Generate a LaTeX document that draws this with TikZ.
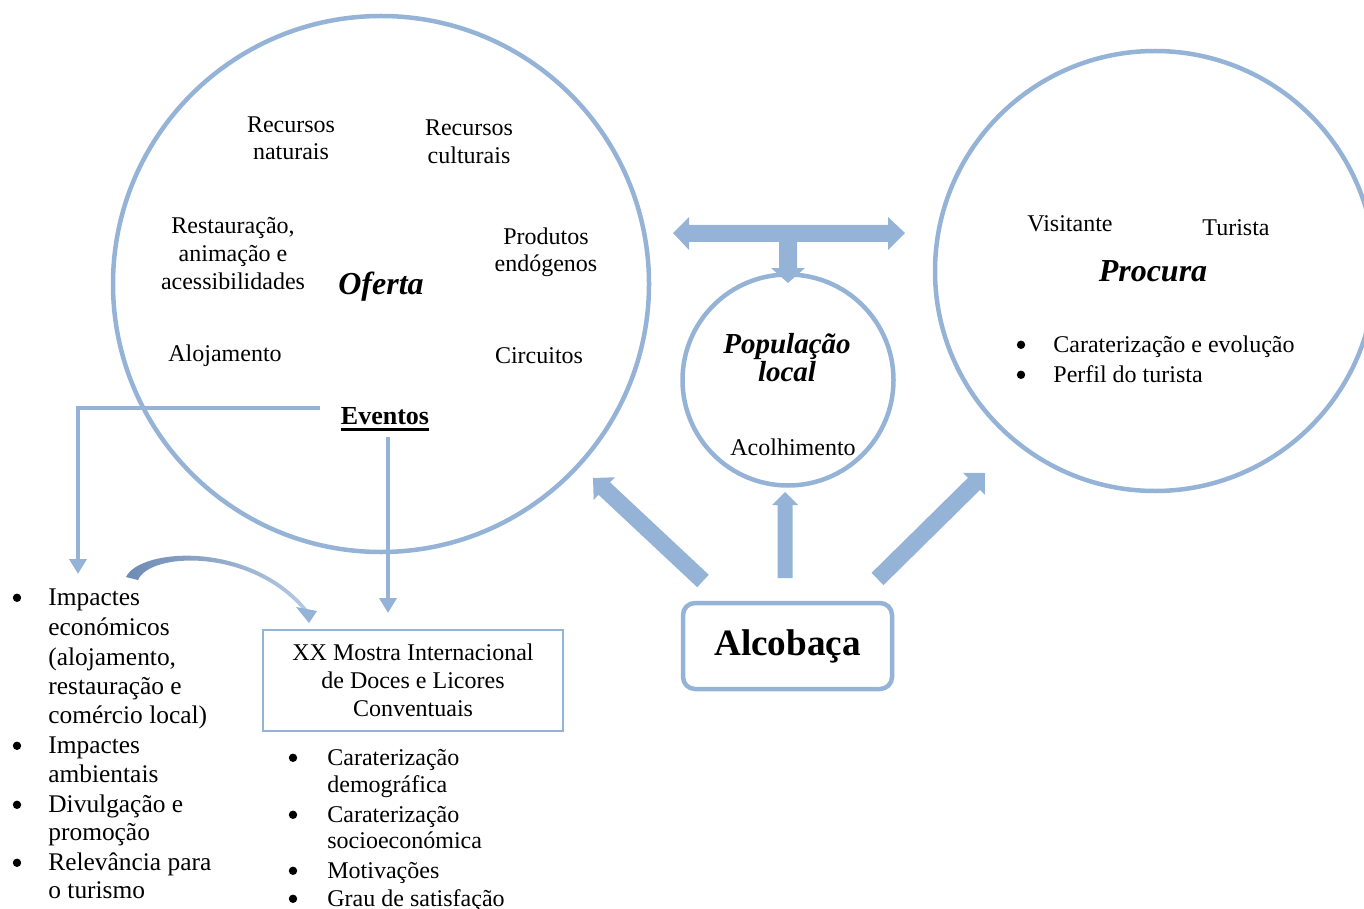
\documentclass[tikz,border=0pt]{standalone}
\usepackage{fontspec}
\setmainfont{Liberation Serif}
\usetikzlibrary{arrows.meta}
\definecolor{lblue}{HTML}{95B3D7}
\definecolor{dblue}{HTML}{6F8BB3}
\begin{document}
\begin{tikzpicture}[x=0.5pt,y=-0.5pt,
  ring/.style={circle, draw=lblue, line width=2.25pt, inner sep=0pt},
  txt/.style={inner sep=0pt, anchor=base, font=\fontsize{12}{14}\selectfont},
  itm/.style={inner sep=0pt, anchor=base west, font=\fontsize{12}{14}\selectfont},
  litm/.style={inner sep=0pt, anchor=base west, font=\fontsize{12.7}{15}\selectfont},
  bul/.style={circle, fill=black, inner sep=0pt, minimum size=4.2pt, yshift=3.6pt},
  biglab/.style={inner sep=0pt, anchor=base, font=\fontsize{16}{19}\selectfont\bfseries\itshape},
  blockarrow/.style={fill=lblue, draw=none},
  conn/.style={draw=lblue, line width=2.25pt, -{Triangle[width=8.5pt,length=7.5pt]}}
]
\useasboundingbox (0,0) rectangle (1364,909);

% ---------- the three circles ----------
\node[ring, minimum size=268pt] (oferta) at (381,284) {};
\node[ring, minimum size=220pt] (procura) at (1155,271) {};
\node[ring, minimum size=105.5pt] (pop) at (788,380) {};

% ---------- Oferta ----------
\node[txt] (rn1) at (291,133) {Recursos};
\node[txt] (rn2) at (291,160) {naturais};
\node[txt] (rc1) at (469,136) {Recursos};
\node[txt] (rc2) at (469,164) {culturais};
\node[txt] (ra1) at (233,234) {Restauração,};
\node[txt] (ra2) at (233,262) {animação e};
\node[txt] (ra3) at (233,289) {acessibilidades};
\node[biglab] (oft) at (381,294) {Oferta};
\node[txt] (pe1) at (546,244) {Produtos};
\node[txt] (pe2) at (546,271) {endógenos};
\node[txt] (aloj) at (225,361) {Alojamento};
\node[txt] (circ) at (539,363) {Circuitos};
\node[inner sep=0pt, anchor=base, font=\fontsize{13}{15}\selectfont\bfseries] (ev) at (385,424) {Eventos};
\draw[line width=1.4pt] (ev.west |- 0,429.5) -- (ev.east |- 0,429.5);

% ---------- Procura ----------
\node[txt] (vis) at (1070,232) {Visitante};
\node[txt] (tur) at (1236,235) {Turista};
\node[biglab] (prc) at (1153,281) {Procura};
\node[bul] (pb1) at (1021,352) {};
\node[itm] (p1) at (1053,352) {Caraterização e evolução};
\node[bul] (pb2) at (1021,382) {};
\node[itm] (p2) at (1053,382) {Perfil do turista};

% ---------- População local ----------
\node[inner sep=0pt, anchor=base, font=\fontsize{14.5}{17}\selectfont\bfseries\itshape] (pl1) at (787,353) {População};
\node[inner sep=0pt, anchor=base, font=\fontsize{14.5}{17}\selectfont\bfseries\itshape] (pl2) at (787,381) {local};
\node[txt] (acol) at (793,455) {Acolhimento};

% ---------- Alcobaça ----------
\node[draw=lblue, line width=2.25pt, rounded corners=6pt, minimum width=104.5pt,
      minimum height=43pt, inner sep=0pt, font=\fontsize{18.6}{22}\selectfont\bfseries]
      (alc) at (787.5,646) {Alcobaça};

% ---------- block arrows ----------
% double arrow between Oferta and Procura, with a stem down to the local population
\fill[blockarrow] (673,233) -- (689,217) -- (689,225) -- (888,225) -- (888,217) -- (905,233)
  -- (888,250) -- (888,242) -- (797,242) -- (797,268) -- (805,268) -- (788,283)
  -- (771,268) -- (779,268) -- (779,242) -- (689,242) -- (689,250) -- cycle;
% from Alcobaça towards Oferta
\fill[blockarrow] (708.8,574.8) -- (610.1,482.4) -- (614.9,477.3) -- (593,478)
  -- (593.7,499.9) -- (598.5,494.8) -- (697.2,587.2) -- cycle;
% from Alcobaça towards the local population
\fill[blockarrow] (777.5,578) -- (777.5,505) -- (772,505) -- (785,492) -- (798,505)
  -- (792.5,505) -- (792.5,578) -- cycle;
% from Alcobaça towards Procura
\fill[blockarrow] (871.5,572.9) -- (968,477.8) -- (963.1,472.9) -- (985,473)
  -- (984.9,494.9) -- (980,489.9) -- (883.5,585.1) -- cycle;

% ---------- Mostra ----------
\node[draw=lblue, line width=1pt, minimum width=150pt, minimum height=50.5pt, inner sep=0pt,
      align=center, font=\fontsize{12}{14}\selectfont]
      (mostra) at (413,680.5) {XX Mostra Internacional\\de Doces e Licores\\Conventuais};

\node[bul] (mb1) at (293,765) {};
\node[itm] (m1a) at (327,765) {Caraterização};
\node[itm] (m1b) at (327,792) {demográfica};
\node[bul] (mb2) at (293,822) {};
\node[itm] (m2a) at (327,822) {Caraterização};
\node[itm] (m2b) at (327,848) {socioeconómica};
\node[bul] (mb3) at (293,878) {};
\node[itm] (m3) at (327,878) {Motivações};
\node[bul] (mb4) at (293,906) {};
\node[itm] (m4) at (327,906) {Grau de satisfação};

% ---------- impacts list ----------
\node[bul] (lb1) at (17,605) {};
\node[litm] (l1a) at (48,605) {Impactes};
\node[litm] (l1b) at (48,635) {económicos};
\node[litm] (l1c) at (48,665) {(alojamento,};
\node[litm] (l1d) at (48,694) {restauração e};
\node[litm] (l1e) at (48,723) {comércio local)};
\node[bul] (lb2) at (17,753) {};
\node[litm] (l2a) at (48,753) {Impactes};
\node[litm] (l2b) at (48,782) {ambientais};
\node[bul] (lb3) at (17,812) {};
\node[litm] (l3a) at (48,812) {Divulgação e};
\node[litm] (l3b) at (48,840) {promoção};
\node[bul] (lb4) at (17,870) {};
\node[litm] (l4a) at (48,870) {Relevância para};
\node[litm] (l4b) at (48,898) {o turismo};

% ---------- connectors from Eventos ----------
\coordinate (evl) at (320,408);
\coordinate (impt) at (78,574);
\coordinate (evd) at (388,437);
\coordinate (mostt) at (388,613);
\draw[conn] (evl) -| (impt);
\draw[conn] (evd) -- (mostt);

% curved arrow from the impacts to the Mostra
\shade[left color=dblue, right color=lblue!70]
  (126,577) .. controls (140,548) and (250,540) .. (307,609)
  -- (303,610) .. controls (250,548) and (150,552) .. (138,580) -- cycle;
\fill[lblue] (296,607) -- (309,623) -- (317,611) -- cycle;
\end{tikzpicture}
\end{document}
